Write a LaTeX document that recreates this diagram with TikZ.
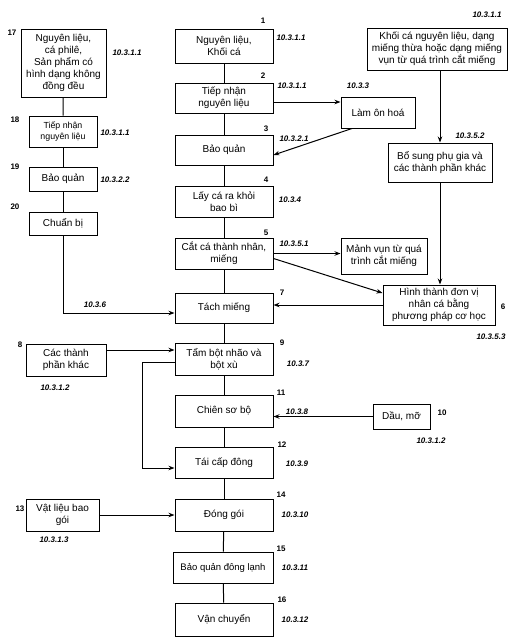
\documentclass[tikz,border=0pt]{standalone}
\usepackage{fontspec}
\setmainfont{Liberation Sans}
\usetikzlibrary{arrows.meta}
\begin{document}
\begin{tikzpicture}[x=1pt,y=-1pt,
  box/.style={draw, line width=1pt, align=center, inner sep=0pt,
    font=\fontsize{10}{12}\selectfont},
  smallbox/.style={box, font=\fontsize{8.8}{11}\selectfont},
  lbl/.style={font=\fontsize{8}{9}\selectfont\bfseries\itshape, inner sep=0pt},
  num/.style={font=\fontsize{8}{9}\selectfont\bfseries, inner sep=0pt},
  conn/.style={line width=1pt},
  arr/.style={line width=1pt, -{Stealth[length=6pt,width=4.5pt]}}]
\useasboundingbox (0,0) rectangle (517,641);

% central column
\node[box, minimum width=98pt, minimum height=34pt] (n1) at (224,46) {Nguyên liệu,\\Khối cá};
\node[box, minimum width=98pt, minimum height=30pt] (n2) at (224,98) {Tiếp nhận\\nguyên liệu};
\node[box, minimum width=98pt, minimum height=30pt] (n3) at (224,150) {Bảo quản};
\node[box, minimum width=98pt, minimum height=31pt] (n4) at (224,201.5) {Lấy cá ra khỏi\\bao bì};
\node[box, minimum width=98pt, minimum height=31pt] (n5) at (224,253.5) {Cắt cá thành nhân,\\miếng};
\node[box, minimum width=98pt, minimum height=30pt] (n7) at (224,308) {Tách miếng};
\node[box, minimum width=98pt, minimum height=32pt] (n9) at (224,359) {Tẩm bột nhão và\\bột xù};
\node[box, minimum width=98pt, minimum height=32pt] (n11) at (224,411) {Chiên sơ bộ};
\node[box, minimum width=98pt, minimum height=31pt] (n12) at (224,462.5) {Tái cấp đông};
\node[box, minimum width=98pt, minimum height=32pt] (n14) at (224,515) {Đóng gói};
\node[box, minimum width=100pt, minimum height=31pt, font=\fontsize{9.5}{12}\selectfont] (n15) at (223,567.5) {Bảo quản đông lạnh};
\node[box, minimum width=98pt, minimum height=33pt] (n16) at (224,619.5) {Vận chuyển};

% right side
\node[box, minimum width=74pt, minimum height=31pt] (lam) at (378,112.5) {Làm ôn hoá};
\node[box, minimum width=86pt, minimum height=36pt] (manh) at (384,256) {Mảnh vụn từ quá\\trình cắt miếng};
\node[box, minimum width=112pt, minimum height=40pt] (n6) at (439,305) {Hình thành đơn vị\\nhân cá bằng\\phương pháp cơ học};
\node[box, minimum width=140pt, minimum height=42pt] (tr) at (437,49) {Khối cá nguyên liệu, dạng\\miếng thừa hoặc dạng miếng\\vụn từ quá trình cắt miếng};
\node[box, minimum width=104pt, minimum height=39pt] (bs) at (440,162.5) {Bổ sung phụ gia và\\các thành phần khác};
\node[box, minimum width=57pt, minimum height=25pt] (dau) at (401.5,416.5) {Dầu, mỡ};

% left side
\node[box, minimum width=85pt, minimum height=68pt] (n17) at (63.5,63) {Nguyên liệu,\\cá philê,\\Sản phẩm có\\hình dạng không\\đồng đều};
\node[smallbox, minimum width=68pt, minimum height=31pt] (n18) at (63,131.5) {Tiếp nhận\\nguyên liệu};
\node[box, minimum width=68pt, minimum height=24pt] (n19) at (63,179) {Bảo quản};
\node[box, minimum width=68pt, minimum height=23pt] (n20) at (63,223.5) {Chuẩn bị};
\node[box, minimum width=80pt, minimum height=32pt] (n8) at (66,360) {Các thành\\phần khác};
\node[box, minimum width=73pt, minimum height=32pt] (n13) at (62.5,515) {Vật liệu bao\\gói};

% central connectors
\draw[conn] (n1) -- (n2);
\draw[conn] (n2) -- (n3);
\draw[conn] (n3) -- (n4);
\draw[conn] (n4) -- (n5);
\draw[conn] (n5) -- (n7);
\draw[conn] (n7) -- (n9);
\draw[conn] (n9) -- (n11);
\draw[conn] (n11) -- (n12);
\draw[conn] (n12) -- (n14);
\draw[conn] (n14) -- (n15);
\draw[conn] (n15) -- (n16);

% right connectors
\draw[arr] ([yshift=-4pt]n2.east) -- ([yshift=-4pt]n2.east -| lam.west);
\draw[arr] ([xshift=-26pt]lam.south) -- ([yshift=-5pt]n3.east);
\draw[arr] (n5.east) -- (n5.east -| manh.west);
\draw[arr] ([yshift=-5pt]n5.east) -- ([yshift=12pt]n6.west);
\draw[arr] (n6.west) -- (n6.west -| n7.east);
\draw[arr] (bs.north |- tr.south) -- (bs.north);
\draw[arr] (bs.south) -- (bs.south |- n6.north);
\draw[arr] (dau.west) -- (dau.west -| n11.east);

% left connectors
\draw[conn] (n17) -- (n18);
\draw[conn] (n18) -- (n19);
\draw[conn] (n19) -- (n20);
\draw[arr] (n20.south) |- ([yshift=-5pt]n7.west);
\draw[arr] ([yshift=10pt]n8.east) -- ([yshift=10pt]n8.east -| n9.west);
\draw[arr] ([yshift=-3pt]n9.west) -- ++(-32,0) |- ([yshift=-5.5pt]n12.west);
\draw[arr] (n13.east) -- (n13.east -| n14.west);

% numbers
\node[num] (k1) at (263,21) {1};
\node[num] (k2) at (263,76) {2};
\node[num] (k3) at (266,129) {3};
\node[num] (k4) at (266,180) {4};
\node[num] (k5) at (266,233) {5};
\node[num] (k6) at (503,307) {6};
\node[num] (k7) at (282,293) {7};
\node[num] (k8) at (20,345) {8};
\node[num] (k9) at (282,343) {9};
\node[num] (k10) at (442,413) {10};
\node[num] (k11) at (281,393) {11};
\node[num] (k12) at (282,445) {12};
\node[num] (k13) at (20,509) {13};
\node[num] (k14) at (281,495) {14};
\node[num] (k15) at (281,549) {15};
\node[num] (k16) at (282,600) {16};
\node[num] (k17) at (12,33) {17};
\node[num] (k18) at (15,120) {18};
\node[num] (k19) at (15,167) {19};
\node[num] (k20) at (15,207) {20};

% section labels
\node[lbl] (l1) at (291,38) {10.3.1.1};
\node[lbl] (ltr) at (487,15) {10.3.1.1};
\node[lbl] (l2) at (292,86) {10.3.1.1};
\node[lbl] (llam) at (358,86) {10.3.3};
\node[lbl] (l3) at (294,139) {10.3.2.1};
\node[lbl] (lbs) at (470,136) {10.3.5.2};
\node[lbl] (l4) at (290,200) {10.3.4};
\node[lbl] (l5) at (294,244) {10.3.5.1};
\node[lbl] (l6) at (491,337) {10.3.5.3};
\node[lbl] (l7) at (95,305) {10.3.6};
\node[lbl] (l8) at (55,388) {10.3.1.2};
\node[lbl] (l9) at (298,364) {10.3.7};
\node[lbl] (l11) at (297,412) {10.3.8};
\node[lbl] (l10) at (431,441) {10.3.1.2};
\node[lbl] (l12) at (297,464) {10.3.9};
\node[lbl] (l13) at (54,540) {10.3.1.3};
\node[lbl] (l14) at (295,515) {10.3.10};
\node[lbl] (l15) at (295,568) {10.3.11};
\node[lbl] (l16) at (295,620) {10.3.12};
\node[lbl] (l17) at (127,53) {10.3.1.1};
\node[lbl] (l18) at (115,133) {10.3.1.1};
\node[lbl] (l19) at (115,180) {10.3.2.2};
\end{tikzpicture}
\end{document}
